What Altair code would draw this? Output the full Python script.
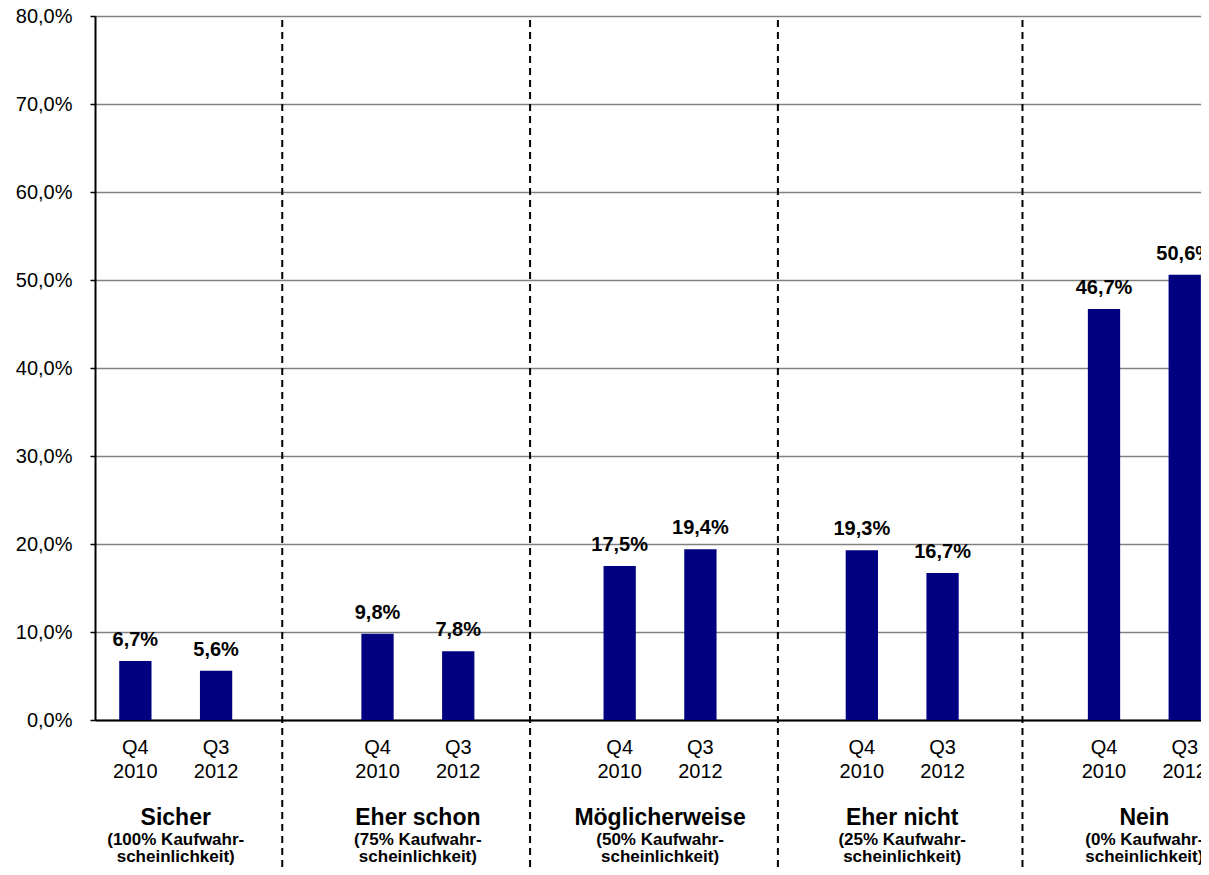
import altair as alt
import pandas as pd

# ---- data ----
categories = ["Sicher", "Eher schon", "Möglicherweise", "Eher nicht", "Nein"]
subtitle_1 = ["(100% Kaufwahr-", "(75% Kaufwahr-", "(50% Kaufwahr-", "(25% Kaufwahr-", "(0% Kaufwahr-"]
subtitle_2 = ["scheinlichkeit)"] * 5
periods_q = ["Q4", "Q3"]
periods_y = ["2010", "2012"]
q4_2010 = [6.7, 9.8, 17.5, 19.3, 46.7]
q3_2012 = [5.6, 7.8, 19.4, 16.7, 50.6]
separators = [1.82, 4.89, 7.96, 10.99]   # in slot units
y_ticks = [0.0, 0.1, 0.2, 0.3, 0.4, 0.5, 0.6, 0.7, 0.8]

rows = []
for g, cat in enumerate(categories):
    for p, vals in enumerate([q4_2010, q3_2012]):
        v = vals[g]
        rows.append({
            "cat": cat, "slot": 3 * g + p, "value": v / 100.0,
            "label": f"{v:.1f}%".replace(".", ","),
            "q": periods_q[p], "yr": periods_y[p],
        })
bars_df = pd.DataFrame(rows)
groups_df = pd.DataFrame({
    "cat": categories, "sub1": subtitle_1, "sub2": subtitle_2,
    "center": [3 * g + 0.5 for g in range(len(categories))],
})
sep_df = pd.DataFrame({"pos": separators})

# ---- layout ----
W, H = 1106, 704
SLOT = 80.72
FONT = "Liberation Sans"
xscale = alt.Scale(domain=[-0.5, -0.5 + W / SLOT], nice=False, zero=False)
yscale = alt.Scale(domain=[0, 0.8], nice=False)

xaxis = alt.Axis(labels=False, ticks=False, grid=False, title=None,
                 domainColor="black", domainWidth=2)
yaxis = alt.Axis(values=y_ticks, title=None,
                 labelExpr="replace(format(datum.value, '.1%'), '.', ',')",
                 labelFont=FONT, labelFontSize=20, labelColor="black", labelPadding=18,
                 domainColor="black", domainWidth=2,
                 tickColor="black", tickSize=5, tickWidth=1.5,
                 grid=True, gridColor="#808080", gridWidth=1.5)

base = alt.Chart(bars_df)

bars = base.transform_calculate(
    x0="datum.slot - 0.2", x1="datum.slot + 0.2"
).mark_bar(color="#000080").encode(
    x=alt.X("x0:Q", scale=xscale, axis=xaxis),
    x2="x1:Q",
    y=alt.Y("value:Q", scale=yscale, axis=yaxis),
    y2=alt.datum(0),
)

value_labels = base.mark_text(font=FONT, fontSize=20, fontWeight="bold",
                              baseline="alphabetic", dy=-15, color="black").encode(
    x=alt.X("slot:Q", scale=xscale),
    y=alt.Y("value:Q", scale=yscale),
    text="label:N",
)

q_labels = base.mark_text(font=FONT, fontSize=20, baseline="alphabetic", color="black").encode(
    x=alt.X("slot:Q", scale=xscale), y=alt.value(738), text="q:N")
yr_labels = base.mark_text(font=FONT, fontSize=20, baseline="alphabetic", color="black").encode(
    x=alt.X("slot:Q", scale=xscale), y=alt.value(762), text="yr:N")

gbase = alt.Chart(groups_df)
g_title = gbase.mark_text(font=FONT, fontSize=23, fontWeight="bold", baseline="alphabetic",
                          color="black").encode(
    x=alt.X("center:Q", scale=xscale), y=alt.value(809), text="cat:N")
g_sub1 = gbase.mark_text(font=FONT, fontSize=17, fontWeight="bold", baseline="alphabetic",
                         color="black").encode(
    x=alt.X("center:Q", scale=xscale), y=alt.value(829), text="sub1:N")
g_sub2 = gbase.mark_text(font=FONT, fontSize=17, fontWeight="bold", baseline="alphabetic",
                         color="black").encode(
    x=alt.X("center:Q", scale=xscale), y=alt.value(846), text="sub2:N")

seps = alt.Chart(sep_df).mark_rule(color="black", strokeWidth=2, strokeDash=[7, 5]).encode(
    x=alt.X("pos:Q", scale=xscale), y=alt.value(4), y2=alt.value(851))

chart = alt.layer(
    bars, seps, value_labels, q_labels, yr_labels, g_title, g_sub1, g_sub2
).properties(
    width=W, height=H,
    autosize=alt.AutoSizeParams(type="none"),
    padding={"left": 87, "top": 8, "right": 0, "bottom": 147},
).configure_view(stroke=None).configure(background="white")

chart.save("out.html", embed_options={"renderer": "svg", "actions": False})
